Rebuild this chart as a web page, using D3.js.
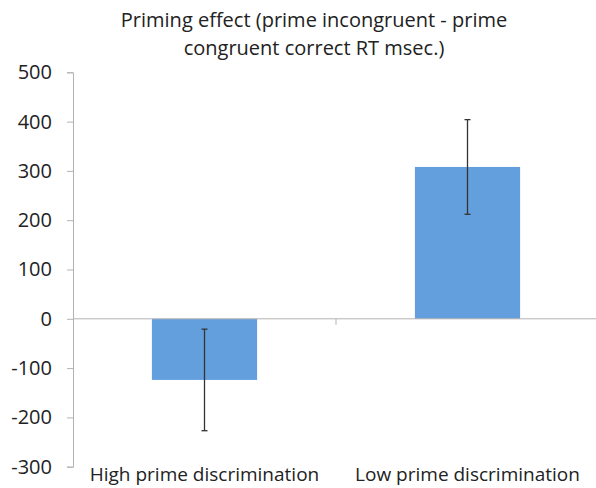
<!DOCTYPE html>
<html>
<head>
<meta charset="utf-8">
<script src="https://cdn.jsdelivr.net/npm/d3@7"></script>
<style>
  body { margin: 0; background: #fff; }
  text { font-family: "Open Sans", sans-serif; fill: #222; }
</style>
</head>
<body>
<div class="canvas"></div>
<script>
const categories = ['High prime discrimination', 'Low prime discrimination'];
const values = [-124, 308];
const errors = [103, 96];
const yTicks = [-300, -200, -100, 0, 100, 200, 300, 400, 500];
const titleLines = ['Priming effect (prime incongruent - prime', 'congruent correct RT msec.)'];

const svg = d3.select('.canvas')
  .append('svg')
  .attr('width', 596)
  .attr('height', 488)

const y = d3.scaleLinear()
  .domain([-300, 500])
  .range([466.7, 72.3])

const x = d3.scaleBand()
  .domain(categories)
  .range([73, 599])
  .paddingInner(0.6)
  .paddingOuter(0.3)

// title
svg.append('text')
  .attr('text-anchor', 'middle')
  .style('font-size', '20px')
  .selectAll('tspan')
  .data(titleLines)
  .join('tspan')
  .attr('x', 314)
  .attr('y', (d, i) => 27 + i * 28)
  .text(d => d)

// y axis
const yAxis = svg.append('g')
  .attr('transform', 'translate(73,0)')
  .call(d3.axisLeft(y).tickValues(yTicks).tickSize(6).tickPadding(15).tickFormat(d => String(d)))
yAxis.select('.domain').attr('stroke', '#b3b3b3')
yAxis.selectAll('.tick line').attr('stroke', '#b3b3b3')
yAxis.selectAll('.tick text')
  .style('font-size', '20px')
  .style('font-family', '"Open Sans", sans-serif')
  .attr('fill', '#222')

// bars
svg.selectAll('rect.bar')
  .data(values)
  .join('rect')
  .attr('class', 'bar')
  .attr('x', (d, i) => x(categories[i]))
  .attr('width', x.bandwidth())
  .attr('y', d => y(Math.max(0, d)))
  .attr('height', d => Math.abs(y(d) - y(0)))
  .attr('fill', '#649fdd')

// zero line and category divider tick
svg.append('line')
  .attr('x1', 73).attr('x2', 599)
  .attr('y1', y(0)).attr('y2', y(0))
  .attr('stroke', '#b3b3b3')

const midX = x(categories[1]) - x.step() * x.paddingInner() / 2
svg.append('line')
  .attr('x1', midX).attr('x2', midX)
  .attr('y1', y(0)).attr('y2', y(0) + 6)
  .attr('stroke', '#b3b3b3')

// error bars
const errG = svg.selectAll('g.err')
  .data(values)
  .join('g')
  .attr('class', 'err')
  .attr('stroke', '#333')
  .attr('stroke-width', 1.3)

errG.append('line')
  .attr('x1', (d, i) => x(categories[i]) + x.bandwidth() / 2)
  .attr('x2', (d, i) => x(categories[i]) + x.bandwidth() / 2)
  .attr('y1', (d, i) => y(d + errors[i]))
  .attr('y2', (d, i) => y(d - errors[i]))

errG.selectAll('line.cap')
  .data((d, i) => [[i, d + errors[i]], [i, d - errors[i]]])
  .join('line')
  .attr('class', 'cap')
  .attr('x1', d => x(categories[d[0]]) + x.bandwidth() / 2 - 3)
  .attr('x2', d => x(categories[d[0]]) + x.bandwidth() / 2 + 3)
  .attr('y1', d => y(d[1]))
  .attr('y2', d => y(d[1]))

// category labels
svg.selectAll('text.cat')
  .data(categories)
  .join('text')
  .attr('class', 'cat')
  .attr('x', d => x(d) + x.bandwidth() / 2)
  .attr('y', 481)
  .attr('text-anchor', 'middle')
  .style('font-size', '19px')
  .text(d => d)
</script>
</body>
</html>
